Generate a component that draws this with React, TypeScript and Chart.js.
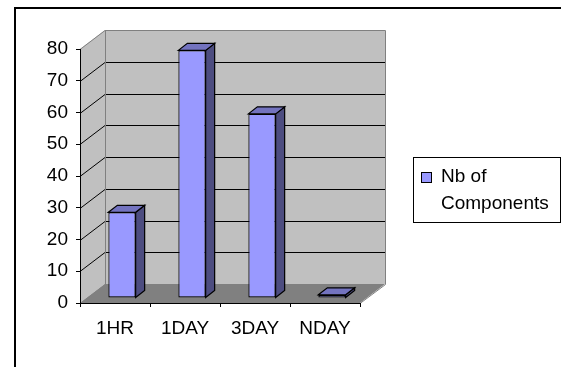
import React, { useEffect, useRef } from "react";
import { Chart, registerables } from "chart.js";

Chart.register(...registerables);

// ---- data ----
const categories: string[] = ["1HR", "1DAY", "3DAY", "NDAY"];
const seriesLabel = "Nb of Components";
const legendLines: string[] = ["Nb of", "Components"];
const values: number[] = [27, 78, 58, 1];
const yMin = 0;
const yMax = 80;
const yStep = 10;

// ---- styling ----
const FONT = "'Liberation Sans', Arial, sans-serif";
const FONT_SIZE = 19;
const WALL = "#c0c0c0";
const FLOOR = "#808080";
const EDGE = "#808080";
const BAR_FRONT = "#9999ff";
const BAR_SIDE = "#4d4d80";
const BAR_TOP = "#7373bf";
const DEPTH = { dx: 25, dy: -19 };
const BAR_SHIFT = { dx: 7, dy: -5 };
const BAR_DEPTH = { dx: 9, dy: -7 };

const poly = (ctx: CanvasRenderingContext2D, pts: number[][]) => {
  ctx.beginPath();
  ctx.moveTo(pts[0][0], pts[0][1]);
  for (let i = 1; i < pts.length; i++) ctx.lineTo(pts[i][0], pts[i][1]);
  ctx.closePath();
};

const threeD = {
  id: "threeD",
  beforeDraw(chart: any) {
    const { ctx, chartArea: a, scales } = chart;
    const ys = scales.y;
    const L = a.left;
    const R = a.right;
    const y0 = ys.getPixelForValue(yMin);
    const yT = ys.getPixelForValue(yMax);
    const { dx, dy } = DEPTH;
    ctx.save();
    ctx.fillStyle = WALL;
    ctx.fillRect(L + dx, yT + dy, R - L, y0 - yT);
    poly(ctx, [[L, yT], [L + dx, yT + dy], [L + dx, y0 + dy], [L, y0]]);
    ctx.fill();
    ctx.fillStyle = FLOOR;
    poly(ctx, [[L, y0], [L + dx, y0 + dy], [R + dx, y0 + dy], [R, y0]]);
    ctx.fill();
    ctx.lineWidth = 1;
    ctx.strokeStyle = "#000";
    for (let v = yMin + yStep; v < yMax; v += yStep) {
      const py = Math.round(ys.getPixelForValue(v)) + 0.5;
      ctx.beginPath();
      ctx.moveTo(L, py);
      ctx.lineTo(L + dx, py + dy);
      ctx.lineTo(R + dx, py + dy);
      ctx.stroke();
    }
    ctx.strokeStyle = EDGE;
    const t = Math.round(yT) + 0.5;
    const b = Math.round(y0) + 0.5;
    ctx.beginPath();
    ctx.moveTo(L, t);
    ctx.lineTo(L + dx, t + dy);
    ctx.lineTo(R + dx + 0.5, t + dy);
    ctx.lineTo(R + dx + 0.5, b + dy);
    ctx.lineTo(R, b);
    ctx.moveTo(L + dx + 0.5, t + dy);
    ctx.lineTo(L + dx + 0.5, b + dy);
    ctx.moveTo(L, b);
    ctx.lineTo(L + dx, b + dy);
    ctx.stroke();
    ctx.restore();
  },
  beforeDatasetsDraw(chart: any) {
    chart.ctx.save();
    chart.ctx.translate(BAR_SHIFT.dx, BAR_SHIFT.dy);
  },
  afterDatasetsDraw(chart: any) {
    const ctx = chart.ctx as CanvasRenderingContext2D;
    ctx.restore();
    const meta = chart.getDatasetMeta(0);
    ctx.save();
    ctx.lineWidth = 1.2;
    ctx.strokeStyle = "#000";
    ctx.lineJoin = "miter";
    meta.data.forEach((bar: any) => {
      const p = bar.getProps(["x", "y", "base", "width"], true);
      const l = p.x - p.width / 2 + BAR_SHIFT.dx;
      const r = p.x + p.width / 2 + BAR_SHIFT.dx;
      const top = p.y + BAR_SHIFT.dy;
      const bot = p.base + BAR_SHIFT.dy;
      const { dx, dy } = BAR_DEPTH;
      ctx.fillStyle = BAR_SIDE;
      poly(ctx, [[r, top], [r + dx, top + dy], [r + dx, bot + dy], [r, bot]]);
      ctx.fill();
      ctx.stroke();
      ctx.fillStyle = BAR_TOP;
      poly(ctx, [[l, top], [l + dx, top + dy], [r + dx, top + dy], [r, top]]);
      ctx.fill();
      ctx.stroke();
    });
    ctx.restore();
  },
  afterDraw(chart: any) {
    const ctx = chart.ctx as CanvasRenderingContext2D;
    ctx.save();
    ctx.lineWidth = 2;
    ctx.strokeStyle = "#000";
    ctx.strokeRect(15, 8, 700, 500);
    ctx.lineWidth = 1;
    ctx.strokeRect(413.5, 157.5, 147, 65);
    ctx.fillStyle = BAR_FRONT;
    ctx.fillRect(421.5, 172.5, 10, 10);
    ctx.strokeRect(421.5, 172.5, 10, 10);
    ctx.fillStyle = "#000";
    ctx.font = `${FONT_SIZE}px ${FONT}`;
    ctx.textBaseline = "alphabetic";
    ctx.textAlign = "left";
    legendLines.forEach((line, i) => {
      ctx.fillText(line, 441, 182 + i * 27);
    });
    ctx.restore();
  },
};

export default function App() {
  const ref = useRef<HTMLCanvasElement | null>(null);
  useEffect(() => {
    if (!ref.current) return;
    const chart = new Chart(ref.current, {
      type: "bar",
      data: {
        labels: categories,
        datasets: [
          {
            label: seriesLabel,
            data: values,
            backgroundColor: BAR_FRONT,
            borderColor: "#000",
            borderWidth: 1.2,
            borderSkipped: false,
            barPercentage: 0.39,
            categoryPercentage: 1,
            clip: false,
          } as any,
        ],
      },
      options: {
        animation: false,
        responsive: false,
        devicePixelRatio: 1,
        layout: { padding: { left: 0, top: 49, right: 201, bottom: 0 } },
        plugins: { legend: { display: false }, tooltip: { enabled: false } },
        scales: {
          x: {
            grid: { display: true, drawOnChartArea: false, drawTicks: true, tickLength: 4, color: "#000", offset: true },
            border: { display: true, color: "#000", width: 1 },
            ticks: { color: "#000", font: { family: FONT, size: FONT_SIZE }, padding: 10, maxRotation: 0 },
            afterFit: (s: any) => {
              s.height = 64;
            },
          },
          y: {
            min: yMin,
            max: yMax,
            ticks: { stepSize: yStep, color: "#000", font: { family: FONT, size: FONT_SIZE }, padding: 8 },
            grid: { display: true, drawOnChartArea: false, drawTicks: true, tickLength: 4, color: "#000" },
            border: { display: true, color: "#000", width: 1 },
            afterFit: (s: any) => {
              s.width = 80;
            },
          },
        },
      },
      plugins: [threeD],
    });
    return () => chart.destroy();
  }, []);
  return (
    <div style={{ position: "absolute", left: 0, top: 0, width: 561, height: 367, overflow: "hidden", background: "#fff" }}>
      <canvas ref={ref} width={561} height={367} style={{ display: "block" }} />
    </div>
  );
}
